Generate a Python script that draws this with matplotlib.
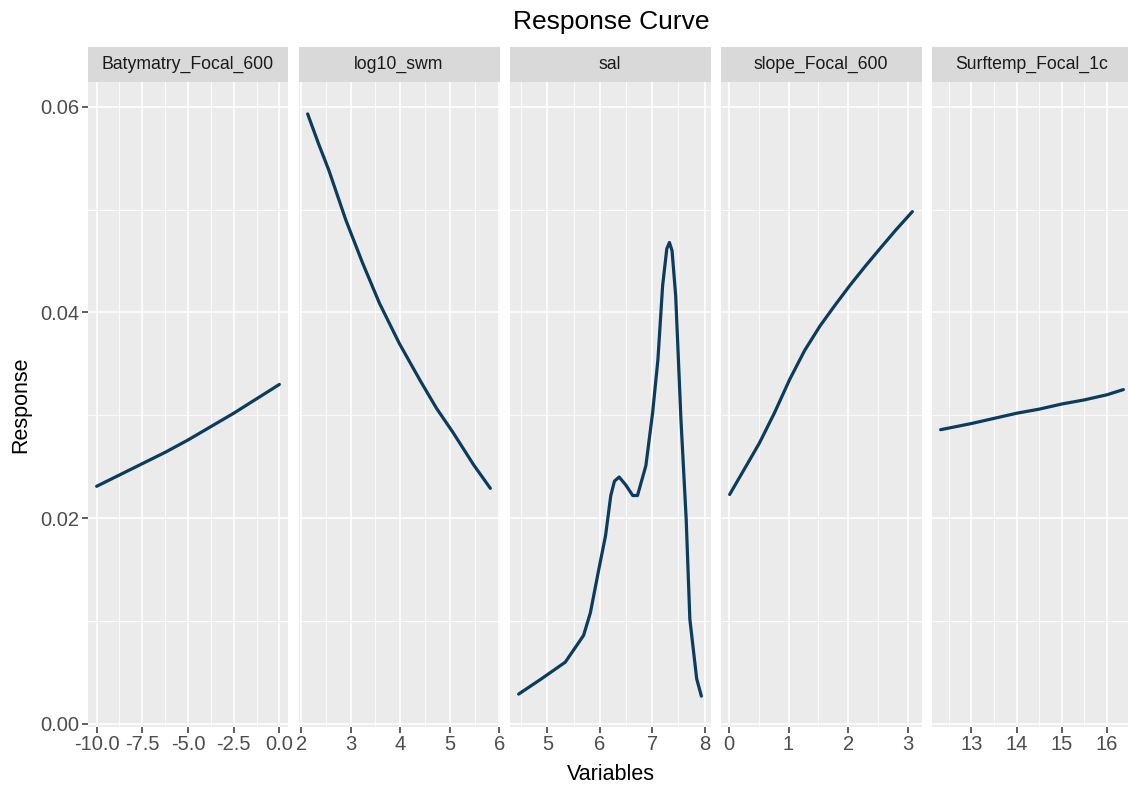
import matplotlib
matplotlib.use("Agg")
import matplotlib.pyplot as plt
from matplotlib.ticker import MultipleLocator, FixedLocator

plt.rcParams['font.family'] = ['Liberation Sans', 'DejaVu Sans']

# facet names
variables = ['Batymatry_Focal_600', 'log10_swm', 'sal', 'slope_Focal_600', 'Surftemp_Focal_1c']

# response curves
bat_x = [-10.0, -8.75, -7.5, -6.25, -5.0, -3.75, -2.5, -1.25, 0.0]
bat_y = [0.0231, 0.0242, 0.0253, 0.0264, 0.0276, 0.0289, 0.0302, 0.0316, 0.0330]

swm_x = [2.13, 2.35, 2.56, 2.9, 3.24, 3.58, 3.98, 4.4, 4.73, 5.07, 5.48, 5.82]
swm_y = [0.0593, 0.0564, 0.0538, 0.0490, 0.0448, 0.0409, 0.0370, 0.0334, 0.0307, 0.0283, 0.0252, 0.0229]

sal_x = [4.45, 4.89, 5.34, 5.69, 5.82, 5.98, 6.11, 6.21, 6.28, 6.37, 6.5, 6.63, 6.72,
         6.88, 7.01, 7.11, 7.2, 7.28, 7.33, 7.38, 7.45, 7.55, 7.65, 7.72, 7.85, 7.94]
sal_y = [0.0029, 0.0044, 0.0060, 0.0086, 0.0108, 0.0150, 0.0183, 0.0222, 0.0236, 0.0240,
         0.0232, 0.0222, 0.0222, 0.0251, 0.0303, 0.0354, 0.0426, 0.0462, 0.0468, 0.0460,
         0.0416, 0.0296, 0.0199, 0.0102, 0.0044, 0.0027]

slope_x = [0.01, 0.25, 0.51, 0.76, 1.02, 1.27, 1.53, 1.78, 2.04, 2.29, 2.55, 2.80, 3.08]
slope_y = [0.0223, 0.0247, 0.0273, 0.0302, 0.0335, 0.0363, 0.0387, 0.0407, 0.0427, 0.0445,
           0.0463, 0.0480, 0.0498]

temp_x = [12.32, 13.0, 13.5, 14.0, 14.5, 15.0, 15.5, 16.0, 16.36]
temp_y = [0.0286, 0.0292, 0.0297, 0.0302, 0.0306, 0.0311, 0.0315, 0.0320, 0.0325]

xs = [bat_x, swm_x, sal_x, slope_x, temp_x]
ys = [bat_y, swm_y, sal_y, slope_y, temp_y]
x_steps = [2.5, 1, 1, 1, 1]
x_fmt = ['{:.1f}', '{:g}', '{:g}', '{:g}', '{:g}']

W, H = 1128, 791
fig = plt.figure(figsize=(W / 100, H / 100), dpi=100)

lefts = [87.5, 298.5, 509.5, 720.5, 931.5]
pw = 201
ptop, pbot = 82, 727
strip_h = 35

line_col = '#0B3C5D'

for i, name in enumerate(variables):
    ax = fig.add_axes([lefts[i] / W, 1 - pbot / H, pw / W, (pbot - ptop) / H])
    ax.set_facecolor('#EBEBEB')
    for sp in ax.spines.values():
        sp.set_visible(False)
    ax.plot(xs[i], ys[i], color=line_col, lw=2.3, solid_joinstyle='round', solid_capstyle='round')
    ax.margins(x=0.05)
    ax.set_ylim(-0.0003, 0.0624)

    step = x_steps[i]
    ax.xaxis.set_major_locator(MultipleLocator(step))
    ax.xaxis.set_minor_locator(MultipleLocator(step / 2))
    ticks = [t for t in ax.get_xticks() if ax.get_xlim()[0] <= t <= ax.get_xlim()[1]]
    ax.xaxis.set_major_locator(FixedLocator(ticks))
    ax.set_xticklabels([x_fmt[i].format(t) for t in ticks])

    ax.yaxis.set_major_locator(MultipleLocator(0.02))
    ax.yaxis.set_minor_locator(MultipleLocator(0.01))
    ax.grid(which='major', color='white', lw=1.2)
    ax.grid(which='minor', color='white', lw=0.6)
    ax.set_axisbelow(True)

    ax.tick_params(which='major', length=4, width=1.1, color='#333333',
                   labelcolor='#4D4D4D', labelsize=14.5, pad=2)
    ax.tick_params(which='minor', length=0)
    if i == 0:
        ax.set_yticklabels(['{:.2f}'.format(t) for t in ax.get_yticks()])
        ax.set_ylabel('Response', fontsize=15.5, color='black', labelpad=6)
    else:
        ax.tick_params(axis='y', which='both', left=False, labelleft=False)

    sax = fig.add_axes([lefts[i] / W, 1 - ptop / H, pw / W, strip_h / H])
    sax.set_facecolor('#D9D9D9')
    sax.set_xticks([])
    sax.set_yticks([])
    for sp in sax.spines.values():
        sp.set_visible(False)
    sax.text(0.5, 0.5, name, ha='center', va='center', fontsize=12.7, color='#1A1A1A',
             transform=sax.transAxes)

fig.text(611 / W, 1 - 775 / H, 'Variables', ha='center', va='center', fontsize=15.5)
fig.text(611 / W, 1 - 22 / H, 'Response Curve', ha='center', va='center', fontsize=19)

fig.savefig('out.png', dpi=100)
